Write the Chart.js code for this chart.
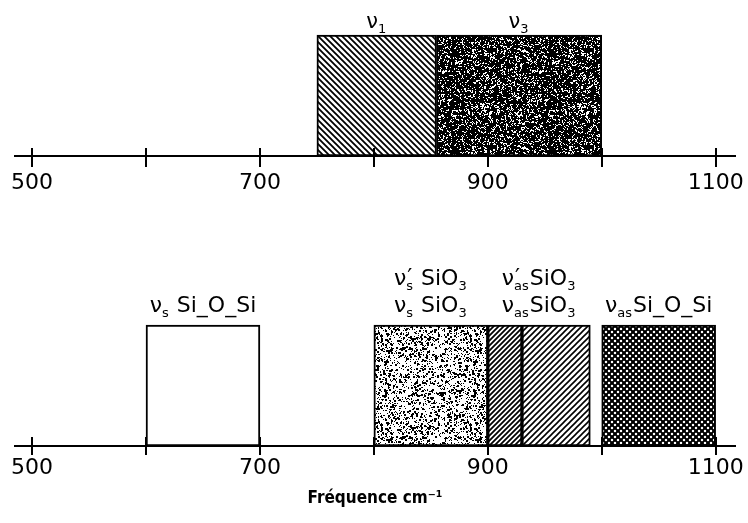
<!DOCTYPE html>
<html><head><meta charset="utf-8">
<script src="https://cdn.jsdelivr.net/npm/chart.js@4.4.0/dist/chart.umd.min.js"></script>
<style>
html,body{margin:0;padding:0;background:#fff;}
#wrap{position:relative;width:748px;height:523px;background:#fff;}
canvas{position:absolute;left:0;}
</style></head><body>
<div id="wrap">
<canvas id="topChart" width="748" height="200" style="top:0"></canvas>
<canvas id="botChart" width="748" height="323" style="top:200px"></canvas>
</div>
<script>
// ---- data ----
const xTickLabels = [500, 700, 900, 1100];
const xTickMarks = [500, 600, 700, 800, 900, 1000, 1100];
const xRange = [485, 1117];

const topBandNames = ['ν1', 'ν3'];
const topBandStart = [750, 855];
const topBandEnd = [855, 1000];
const topBandText = ['ν{1}', 'ν{3}'];

const bottomBandNames = ['νs Si-O-Si', "νs SiO3 / ν's SiO3", "ν'as SiO3", 'νas SiO3', 'νas Si-O-Si'];
const bottomBandStart = [600, 800, 900, 930, 1000];
const bottomBandEnd = [700, 900, 930, 990, 1100];

const bottomLabelLines = [
  ['ν{s} Si_O_Si'],
  ['ν{s|′} SiO{3}', 'ν{s} SiO{3}'],
  ['ν{as|′}SiO{3}', 'ν{as}SiO{3}'],
  ['ν{as}Si_O_Si']
];
const bottomLabelFrom = [600, 800, 900, 1000];
const bottomLabelTo = [700, 900, 990, 1100];

const axisTitle = 'Fréquence cm⁻¹';

// ---- textures ----
function makeTile(w, h, draw) {
  const c = document.createElement('canvas'); c.width = w; c.height = h;
  const g = c.getContext('2d'); draw(g, w, h);
  return g.createPattern(c, 'repeat');
}
function hatch(s, lw, dir) {
  return makeTile(s, s, (g) => {
    g.fillStyle = '#fff'; g.fillRect(0, 0, s, s);
    g.strokeStyle = '#000'; g.lineWidth = lw; g.beginPath();
    if (dir > 0) {
      g.moveTo(-2, s + 2); g.lineTo(s + 2, -2);
      g.moveTo(-2, 2); g.lineTo(2, -2);
      g.moveTo(s - 2, s + 2); g.lineTo(s + 2, s - 2);
    } else {
      g.moveTo(-2, -2); g.lineTo(s + 2, s + 2);
      g.moveTo(s - 2, -2); g.lineTo(s + 2, 2);
      g.moveTo(-2, s - 2); g.lineTo(2, s + 2);
    }
    g.stroke();
  });
}
function stipple(size, density, seed) {
  return makeTile(size, size, (g) => {
    g.fillStyle = '#fff'; g.fillRect(0, 0, size, size);
    let st = seed;
    const rnd = () => { st = (st * 1103515245 + 12345) & 0x7fffffff; return st / 0x7fffffff; };
    g.fillStyle = '#000';
    for (let y = 0; y < size; y++) for (let x = 0; x < size; x++) {
      const r = rnd();
      if (r < density) g.fillRect(x, y, 1, 1);
      if (r < density * 0.25) g.fillRect(x, y, 2, 2);
    }
  });
}
function cross(s) {
  return makeTile(s, s, (g) => {
    g.fillStyle = '#000'; g.fillRect(0, 0, s, s);
    g.fillStyle = '#fff';
    [[s / 2, s / 2], [0, 0], [s, 0], [0, s], [s, s]].forEach(([x, y]) => {
      g.beginPath(); g.arc(x, y, 1.25, 0, Math.PI * 2); g.fill();
    });
  });
}

const topFills = [hatch(6, 1.8, -1), stipple(97, 0.62, 7)];
const bottomFills = ['#fff', stipple(89, 0.18, 13), hatch(5, 1.8, 1), hatch(6, 1.6, 1), cross(6)];

// ---- rich text ----
const FONT = '"DejaVu Sans", "Liberation Sans", sans-serif';
function parseRich(s) {
  const segs = []; const re = /\{([^}]*)\}/g; let last = 0, m;
  while ((m = re.exec(s))) {
    if (m.index > last) segs.push({ t: s.slice(last, m.index) });
    const parts = m[1].split('|');
    segs.push({ sub: parts[0], sup: parts[1] });
    last = re.lastIndex;
  }
  if (last < s.length) segs.push({ t: s.slice(last) });
  return segs;
}
function drawRich(ctx, s, cx, baseline, size) {
  const segs = parseRich(s);
  const main = size + 'px ' + FONT, small = Math.round(size * 0.6) + 'px ' + FONT;
  let w = 0;
  segs.forEach(g => {
    if (g.t != null) { ctx.font = main; g.w = ctx.measureText(g.t).width; }
    else {
      ctx.font = small; let a = ctx.measureText(g.sub || '').width;
      ctx.font = main; let b = g.sup ? ctx.measureText(g.sup).width : 0;
      g.w = Math.max(a, b) + 1;
    }
    w += g.w;
  });
  let x = cx - w / 2;
  ctx.save();
  ctx.textBaseline = 'alphabetic'; ctx.textAlign = 'left'; ctx.fillStyle = '#000';
  segs.forEach(g => {
    if (g.t != null) { ctx.font = main; ctx.fillText(g.t, x, baseline); }
    else {
      ctx.font = small; if (g.sub) ctx.fillText(g.sub, x, baseline + size * 0.22);
      if (g.sup) { ctx.font = main; ctx.fillText(g.sup, x + 1, baseline - size * 0.05); }
    }
    x += g.w;
  });
  ctx.restore();
}

// ---- plugins ----
function tickMarkPlugin(up, down) {
  return {
    id: 'tickMarks',
    afterDraw(chart) {
      const { ctx, chartArea } = chart; const sx = chart.scales.x;
      ctx.save(); ctx.strokeStyle = '#000'; ctx.lineWidth = 2;
      xTickMarks.forEach(v => {
        const px = Math.round(sx.getPixelForValue(v));
        ctx.beginPath(); ctx.moveTo(px, chartArea.bottom - up); ctx.lineTo(px, chartArea.bottom + down); ctx.stroke();
      });
      ctx.restore();
    }
  };
}

function bandChart(id, names, starts, ends, fills, cfg) {
  return new Chart(document.getElementById(id), {
    type: 'bar',
    data: {
      labels: [''],
      datasets: starts.map((s, i) => ({
        label: names[i], data: [[s, ends[i]]], backgroundColor: fills[i],
        borderColor: '#000', borderWidth: 2, borderSkipped: false, grouped: false,
        barPercentage: 1, categoryPercentage: 1, clip: false
      }))
    },
    options: {
      indexAxis: 'y', responsive: false, animation: false, events: [],
      layout: { padding: { top: cfg.top, left: 15, right: 13, bottom: 0 } },
      plugins: { legend: { display: false }, tooltip: { enabled: false }, title: { display: false } },
      scales: {
        y: { display: false },
        x: {
          type: 'linear', min: xRange[0], max: xRange[1],
          grid: { display: false, drawTicks: false },
          border: { display: true, color: '#000', width: 2 },
          ticks: { font: { family: FONT, size: 22 }, color: '#000', padding: cfg.tickPad, maxRotation: 0, autoSkip: false,
            callback: (v) => String(v) },
          afterBuildTicks: (sc) => { sc.ticks = xTickLabels.map(v => ({ value: v })); },
          afterFit: (sc) => { sc.height = cfg.axisH; sc.paddingLeft = 0; sc.paddingRight = 0; },
          title: cfg.title ? { display: true, text: cfg.title, color: '#000',
            font: { family: '"DejaVu Sans Condensed", "DejaVu Sans", sans-serif', size: 17, weight: 'bold' },
            padding: { top: 0, bottom: 14 } } : { display: false }
        }
      }
    },
    plugins: [tickMarkPlugin(cfg.up, cfg.down), { id: 'bandLabels', afterDraw: cfg.labels }]
  });
}

bandChart('topChart', topBandNames, topBandStart, topBandEnd, topFills, {
  top: 35, axisH: 44, tickPad: 14, up: 8, down: 11,
  labels(chart) {
    const sx = chart.scales.x, top = chart.chartArea.top;
    topBandText.forEach((t, i) => {
      drawRich(chart.ctx, t, sx.getPixelForValue((topBandStart[i] + topBandEnd[i]) / 2), top - 7, 21);
    });
  }
});

bandChart('botChart', bottomBandNames, bottomBandStart, bottomBandEnd, bottomFills, {
  top: 125, axisH: 77, tickPad: 9, up: 9, down: 9, title: axisTitle,
  labels(chart) {
    const sx = chart.scales.x, top = chart.chartArea.top;
    bottomLabelLines.forEach((lines, i) => {
      const cx = sx.getPixelForValue((bottomLabelFrom[i] + bottomLabelTo[i]) / 2);
      lines.forEach((t, j) => {
        const base = top - 13 - (lines.length - 1 - j) * 27;
        drawRich(chart.ctx, t, cx, base, 22);
      });
    });
  }
});
</script>
</body></html>
